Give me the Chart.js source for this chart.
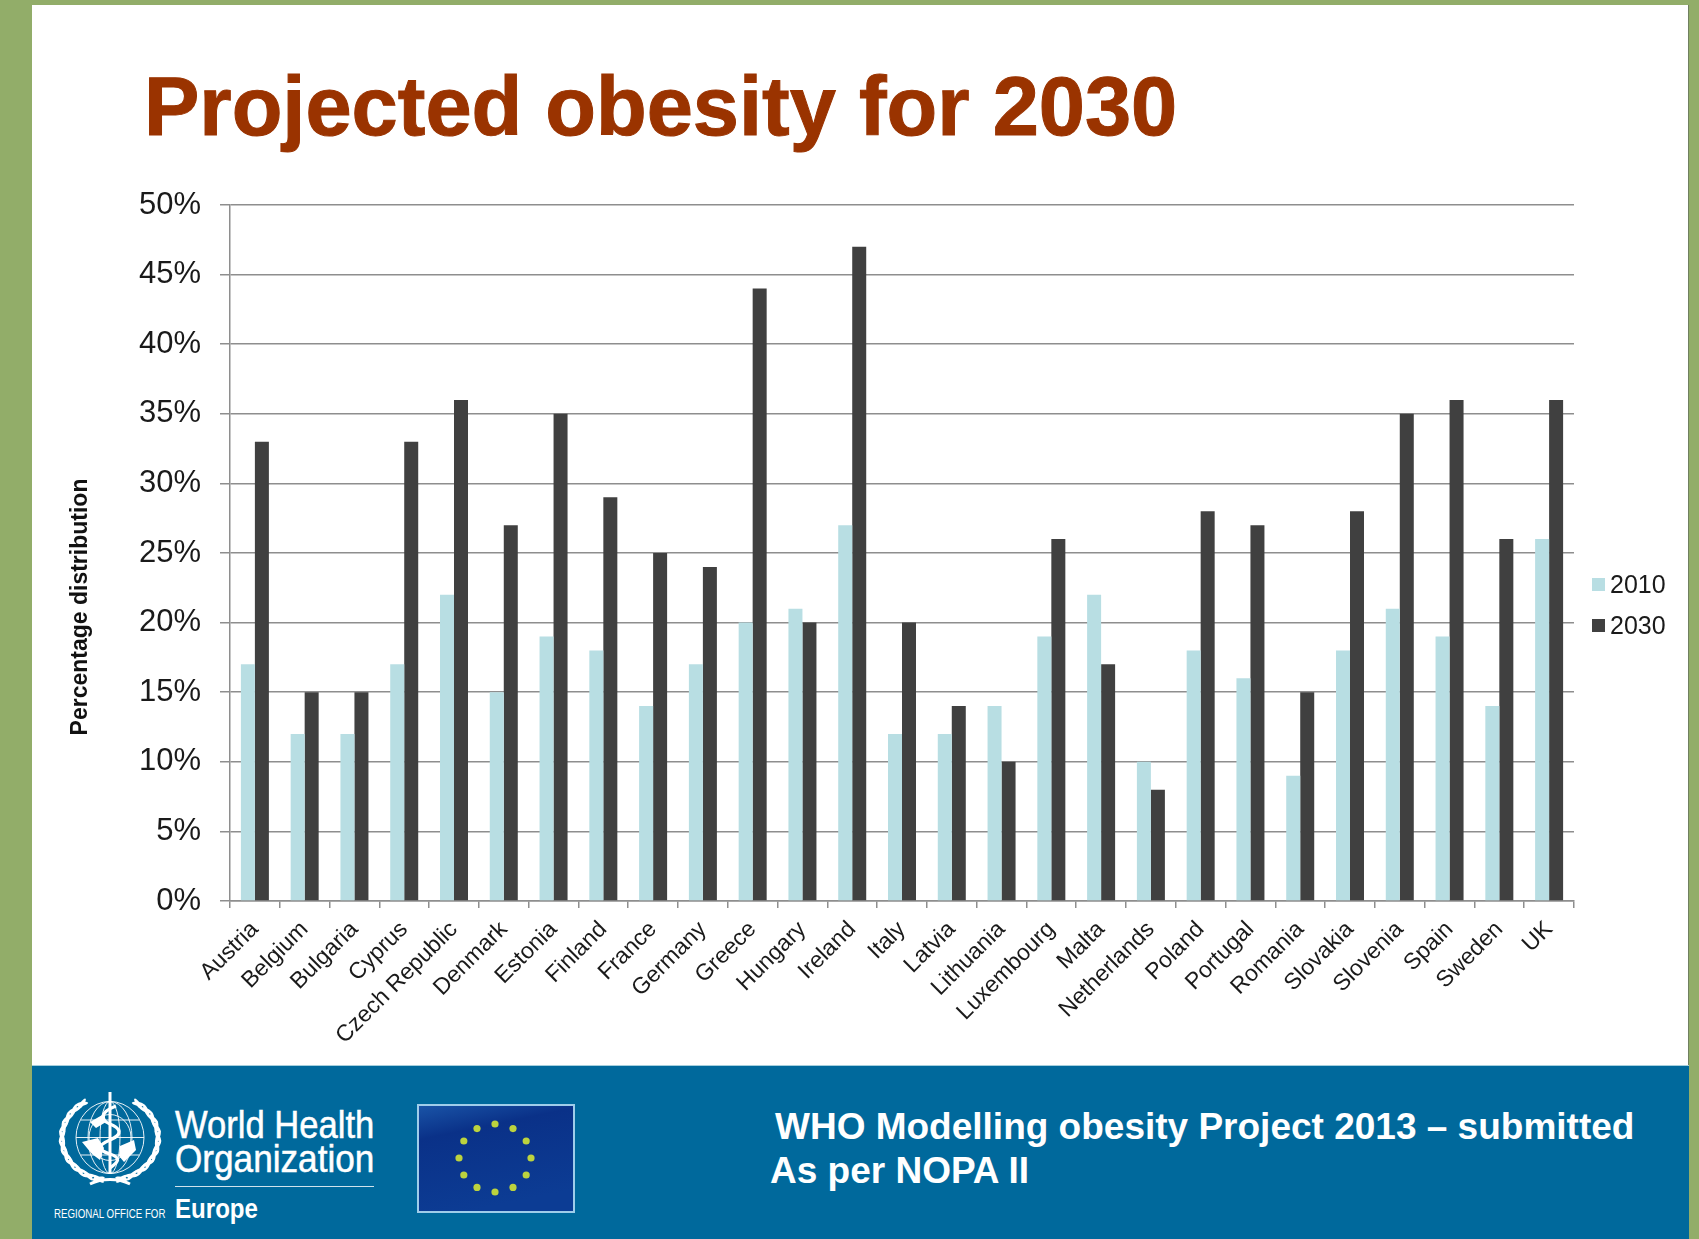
<!DOCTYPE html>
<html>
<head>
<meta charset="utf-8">
<title>Projected obesity for 2030</title>
<script src="https://cdn.jsdelivr.net/npm/chart.js@4"></script>
<style>
    html, body { margin: 0; padding: 0; }
    body { width: 1699px; height: 1239px; overflow: hidden; font-family: "Liberation Sans", Arial, sans-serif; }
    #page { position: absolute; left: 0; top: 0; width: 1699px; height: 1239px; background: #92ad69; overflow: hidden; filter: blur(0.6px); }
    #slide { position: absolute; left: 32px; top: 5px; width: 1657px; height: 1234px; background: #fff; border-right: 1px solid #70805f; box-sizing: border-box; }
    #footer { position: absolute; left: 32px; top: 1065px; width: 1657px; height: 174px; background: #00699c; border-top: 1px solid #a5cfdd; box-sizing: border-box; }
    #productChart { position: absolute; left: 90px; top: 165px; }
    .txt { position: absolute; line-height: 1; white-space: nowrap; margin: 0; }
    #title { left: 144px; top: 65px; font-size: 83px; font-weight: bold; color: #9a3300; -webkit-text-stroke: 1px #9a3300; }
    #yTitle { left: 79px; top: 607px; font-size: 23px; font-weight: bold; color: #111; transform: translate(-50%, -50%) rotate(-90deg); }
    #legend .swatch { position: absolute; left: 1592px; width: 13px; height: 13px; }
    #legend .txt { left: 1610px; font-size: 25px; color: #1a1a1a; }
    .foot { color: #fff; font-weight: bold; font-size: 37px; }
    .who { color: #fff; transform-origin: 0 0; }
    #whoLine { position: absolute; left: 175px; top: 1186px; width: 199px; height: 1px; background: #cfe2ec; }
    #flag { position: absolute; left: 417px; top: 1104px; width: 158px; height: 109px; }
    #emblem { position: absolute; left: 54px; top: 1092px; width: 112px; height: 96px; }
</style>
</head>
<body>
<div id="page">
    <div id="slide"></div>
    <div id="footer"></div>
    <h1 id="title" class="txt">Projected obesity for 2030</h1>
    <canvas id="productChart" width="1599" height="880"></canvas>
    <div id="yTitle" class="txt">Percentage distribution</div>
    <div id="legend"></div>

    <svg id="emblem" viewBox="0 0 112 96"></svg>
    <div class="txt who" style="left:175px;top:1106px;font-size:38px;transform:scaleX(.91);-webkit-text-stroke:.5px #fff">World Health</div>
    <div class="txt who" style="left:175px;top:1140px;font-size:38px;transform:scaleX(.925);-webkit-text-stroke:.5px #fff">Organization</div>
    <div id="whoLine"></div>
    <div class="txt who" style="left:54px;top:1207px;font-size:13.5px;transform:scaleX(.72)">REGIONAL OFFICE FOR</div>
    <div class="txt who" style="left:175px;top:1195px;font-size:28px;font-weight:bold;transform:scaleX(.86)">Europe</div>
    <svg id="flag" viewBox="0 0 158 109"></svg>

    <div class="txt foot" style="left:775px;top:1108px">WHO Modelling obesity Project 2013 – submitted</div>
    <div class="txt foot" style="left:770px;top:1152px">As per NOPA II</div>
</div>

<script>
const countries = ['Austria', 'Belgium', 'Bulgaria', 'Cyprus', 'Czech Republic', 'Denmark', 'Estonia', 'Finland', 'France', 'Germany', 'Greece', 'Hungary', 'Ireland', 'Italy', 'Latvia', 'Lithuania', 'Luxembourg', 'Malta', 'Netherlands', 'Poland', 'Portugal', 'Romania', 'Slovakia', 'Slovenia', 'Spain', 'Sweden', 'UK']
const values2010 = [17, 12, 12, 17, 22, 15, 19, 18, 14, 17, 20, 21, 27, 12, 12, 14, 19, 22, 10, 18, 16, 9, 18, 21, 19, 14, 26]
const values2030 = [33, 15, 15, 33, 36, 27, 35, 29, 25, 24, 44, 20, 47, 20, 14, 10, 26, 17, 8, 28, 27, 15, 28, 35, 36, 26, 36]
const seriesNames = ['2010', '2030']
const seriesColors = ['#b8dee3', '#404040']
const legendRows = [578, 619]

const lineColor = '#8e8e8e'
const textColor = '#1a1a1a'

const productChart = new Chart(document.getElementById('productChart'), {
    type: 'bar',
    data: {
        labels: countries,
        datasets: [
            { label: seriesNames[0], data: values2010, backgroundColor: seriesColors[0] },
            { label: seriesNames[1], data: values2030, backgroundColor: seriesColors[1] }
        ]
    },
    options: {
        responsive: false,
        animation: false,
        devicePixelRatio: 1,
        barPercentage: 1,
        categoryPercentage: 0.5625,
        layout: { padding: { top: 40, right: 115, left: 0, bottom: 0 } },
        plugins: {
            legend: { display: false },
            tooltip: { enabled: false }
        },
        scales: {
            x: {
                // hög nog så att plottytan slutar vid y = 901
                afterFit: (scale) => { scale.height = 144 },
                grid: { drawOnChartArea: false, color: lineColor, lineWidth: 1.5, tickLength: 7 },
                border: { color: lineColor, width: 1.5 },
                ticks: {
                    autoSkip: false,
                    maxRotation: 45,
                    minRotation: 45,
                    padding: 8,
                    color: textColor,
                    font: { family: '"Liberation Sans"', size: 23 }
                }
            },
            y: {
                min: 0,
                max: 50,
                afterFit: (scale) => { scale.width = 140 },
                grid: { color: lineColor, lineWidth: 1.5, tickLength: 10 },
                border: { color: lineColor, width: 1.5 },
                ticks: {
                    stepSize: 5,
                    padding: 19,
                    color: textColor,
                    font: { family: '"Liberation Sans"', size: 31 },
                    callback: (value) => value + '%'
                }
            }
        }
    }
})

// Legend byggs från datasetens namn och färger
const legend = document.getElementById('legend')
productChart.data.datasets.forEach((dataset, i) => {
    legend.innerHTML += `
        <div class="swatch" style="top:${legendRows[i]}px;background:${dataset.backgroundColor}"></div>
        <div class="txt" style="top:${legendRows[i] - 6}px">${dataset.label}</div>
    `
})

// EU-flaggan
const flagStars = []
for (let i = 0; i < 12; i++) {
    const a = (i * Math.PI) / 6
    flagStars.push(`<circle cx="${78 + 36 * Math.cos(a)}" cy="${54 + 34 * Math.sin(a)}" r="3.6" fill="#bcd33e"/>`)
}
document.getElementById('flag').innerHTML = `
    <defs><linearGradient id="flagBg" x1="0" y1="0" x2="0.3" y2="1">
        <stop offset="0" stop-color="#1a55a8"/><stop offset="0.3" stop-color="#0a3188"/><stop offset="1" stop-color="#0c3c94"/>
    </linearGradient></defs>
    <rect x="1" y="1" width="156" height="107" fill="url(#flagBg)" stroke="#9fcdea" stroke-width="2"/>
    ${flagStars.join('')}
`

// WHO-emblemet, ungefärligt
const leaves = []
for (let i = 0; i < 11; i++) {
    const t = ((14 + i * 13) * Math.PI) / 180
    const lx = 56 - 48 * Math.sin(t)
    const ly = 46 + 42 * Math.cos(t)
    const deg = (Math.atan2(-42 * Math.sin(t), -48 * Math.cos(t)) * 180) / Math.PI
    leaves.push(`<ellipse cx="${lx}" cy="${ly}" rx="6.5" ry="2" fill="#fff" transform="rotate(${deg - 22} ${lx} ${ly})"/>`)
    leaves.push(`<ellipse cx="${lx}" cy="${ly}" rx="6.5" ry="2" fill="#fff" transform="rotate(${deg + 22} ${lx} ${ly})"/>`)
    const rx = 112 - lx
    leaves.push(`<ellipse cx="${rx}" cy="${ly}" rx="6.5" ry="2" fill="#fff" transform="rotate(${-deg + 22} ${rx} ${ly})"/>`)
    leaves.push(`<ellipse cx="${rx}" cy="${ly}" rx="6.5" ry="2" fill="#fff" transform="rotate(${-deg - 22} ${rx} ${ly})"/>`)
}
document.getElementById('emblem').innerHTML = `
    <g fill="none" stroke="#fff" stroke-width="0.9">
        <ellipse cx="56" cy="45.5" rx="34" ry="36"/>
        <ellipse cx="56" cy="45.5" rx="22" ry="36"/>
        <ellipse cx="56" cy="45.5" rx="10" ry="36"/>
        <ellipse cx="56" cy="45.5" rx="21" ry="23"/>
        <path d="M22 45.5H90M27 28H85M27 63H85"/>
    </g>
    <path d="M28 50l16-4 6 10-4 12-8-6zM66 54l14-6 2 10-12 12-5-6zM36 30l14-8 2 8-10 6z" fill="#fff"/>
    <path d="M56 0V82" stroke="#fff" stroke-width="3"/>
    <path d="M62 14C46 20 46 28 56 32S70 42 56 48 44 58 56 62 64 70 56 76" fill="none" stroke="#fff" stroke-width="3.4"/>
    ${leaves.join('')}
    <path d="M36 92C48 86 64 86 76 92" fill="none" stroke="#fff" stroke-width="3"/>
`
</script>
</body>
</html>
